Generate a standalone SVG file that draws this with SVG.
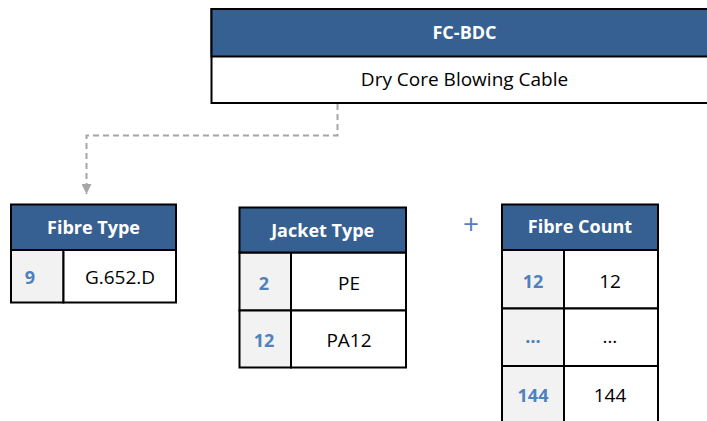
<svg xmlns="http://www.w3.org/2000/svg" width="707" height="421" viewBox="0 0 707 421">
<style>
.hdr{fill:#366092;stroke:#000;stroke-width:2}
.cell{fill:#fff;stroke:#000;stroke-width:2}
.key{fill:#f2f2f2;stroke:#000;stroke-width:2}
.ht{font-family:"Open Sans","Liberation Sans",sans-serif;font-weight:bold;font-size:18px;fill:#fff;text-anchor:middle}
.vt{font-family:"Open Sans","Liberation Sans",sans-serif;font-size:19px;fill:#000;text-anchor:middle}
.kt{font-family:"Open Sans","Liberation Sans",sans-serif;font-weight:bold;font-size:18px;fill:#4f81bd;text-anchor:middle}
.conn{fill:none;stroke:#a6a6a6;stroke-width:2;stroke-dasharray:6,4}
</style>
<defs>
<marker id="arr" viewBox="0 0 10 10" refX="10" refY="5" markerWidth="10" markerHeight="10" markerUnits="userSpaceOnUse" orient="auto">
<path d="M0,0 L10,5 L0,10 z" fill="#a6a6a6"/>
</marker>
</defs>
<g id="connectors">
<path class="conn" d="M337.5,104 V135.5 H86.5 V194" marker-end="url(#arr)"/>
</g>
<g id="fc-bdc">
<rect class="cell" x="211.5" y="9" width="510" height="94"/>
<rect class="hdr" x="211.5" y="9" width="510" height="47.5"/>
<text class="ht" x="464.5" y="38.5">FC-BDC</text>
<text class="vt" x="464.5" y="86" font-size="19.5">Dry Core Blowing Cable</text>
</g>
<g id="fibre-type">
<rect class="key" x="11" y="250" width="52.5" height="52.5"/>
<rect class="cell" x="63.5" y="250" width="112.5" height="52.5"/>
<rect class="hdr" x="11" y="204.5" width="165" height="45.5"/>
<text class="ht" x="93.5" y="233.5">Fibre Type</text>
<text class="kt" x="30" y="283.5">9</text>
<text class="vt" x="120" y="283.5">G.652.D</text>
</g>
<g id="jacket-type">
<rect class="key" x="239.5" y="252.5" width="51.5" height="58"/>
<rect class="cell" x="291" y="252.5" width="115" height="58"/>
<rect class="key" x="239.5" y="310.5" width="51.5" height="57"/>
<rect class="cell" x="291" y="310.5" width="115" height="57"/>
<rect class="hdr" x="239.5" y="207.5" width="166.5" height="45"/>
<text class="ht" x="322.7" y="236.5">Jacket Type</text>
<text class="kt" x="264" y="289.5">2</text>
<text class="vt" x="349" y="289.5">PE</text>
<text class="kt" x="264" y="347">12</text>
<text class="vt" x="349" y="347">PA12</text>
</g>
<text id="plus" x="471" y="234" font-family="Open Sans, Liberation Sans, sans-serif" font-size="28" fill="#4f81bd" text-anchor="middle">+</text>
<g id="fibre-count">
<rect class="key" x="502" y="250" width="62" height="58.5"/>
<rect class="cell" x="564" y="250" width="94" height="58.5"/>
<rect class="key" x="502" y="308.5" width="62" height="57.5"/>
<rect class="cell" x="564" y="308.5" width="94" height="57.5"/>
<rect class="key" x="502" y="366" width="62" height="60"/>
<rect class="cell" x="564" y="366" width="94" height="60"/>
<rect class="hdr" x="502" y="204.5" width="156" height="45.5"/>
<text class="ht" x="580" y="232.5">Fibre Count</text>
<text class="kt" x="533" y="287.5">12</text>
<text class="vt" x="610" y="287.5">12</text>
<text class="kt" x="533" y="343">…</text>
<text class="vt" x="610" y="343">…</text>
<text class="kt" x="533" y="402">144</text>
<text class="vt" x="610" y="402">144</text>
</g>
</svg>
